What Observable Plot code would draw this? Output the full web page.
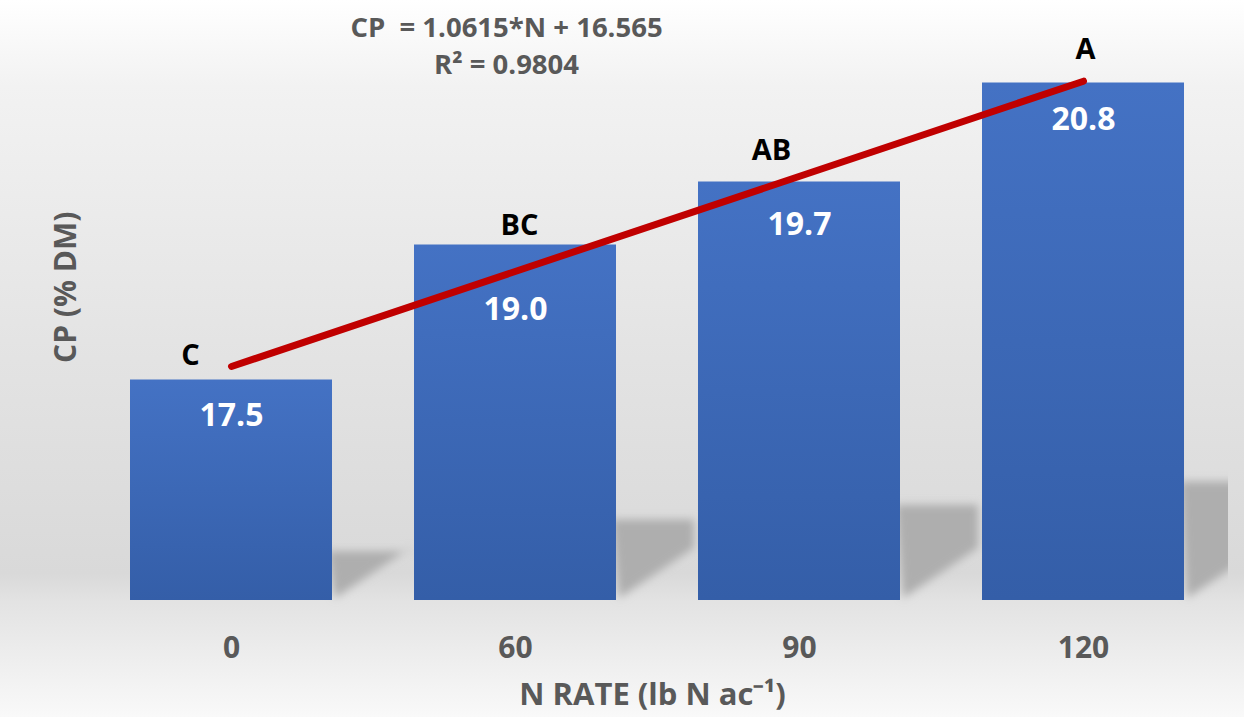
<!DOCTYPE html>
<html><head><meta charset="utf-8">
<script src="https://cdn.jsdelivr.net/npm/d3@7"></script>
<script src="https://cdn.jsdelivr.net/npm/@observablehq/plot@0.6"></script>
<style>
body{margin:0;background:#fff;}
#chart svg{display:block;}
</style></head><body><div id="chart"></div>
<script>
// ---- data ----
const nRates = ["0","60","90","120"];
const cpValues = [17.5, 19.0, 19.7, 20.8];
const sigLetters = ["C","BC","AB","A"];
const trendN = ["0","120"];
const trendCP = [17.65, 20.82];
const equationLines = ["CP  = 1.0615*N + 16.565", "R² = 0.9804"];
const xTitle = "N RATE (lb N ac⁻¹)";
const yTitle = "CP (% DM)";
const yBase = 15.05;
const yTop = 21.5;

const bars = nRates.map((n, i) => ({n, cp: cpValues[i], letter: sigLetters[i]}));
const trend = trendN.map((n, i) => ({n, cp: trendCP[i]}));

// ---- styling ----
const letterNudge = [[-41,-24],[4,-19],[-28,-31],[2,-33]];
const valueNudge = [[0,36],[0,65],[0,43],[0,37]];
const font = "'Open Sans', sans-serif";
const gray = "#595959";

const plot = Plot.plot({
  width: 1244, height: 717,
  marginTop: 19.5, marginBottom: 117, marginLeft: 100, marginRight: 30,
  style: {
    fontFamily: font,
    background: "linear-gradient(to bottom, #ffffff 0%, #f2f2f2 12%, #e3e3e3 50%, #d9d9d9 80%, #e3e3e3 84%, #f9f9f9 100%)"
  },
  x: {domain: nRates, paddingInner: 0.29, paddingOuter: 0.106, axis: null},
  y: {domain: [yBase, yTop], axis: null},
  marks: [
    Plot.barY(bars, {x: "n", y1: yBase, y2: "cp", fill: "url(#barGrad)"}),
    Plot.line(trend, {x: "n", y: "cp", stroke: "#c00000", strokeWidth: 7, strokeLinecap: "round"}),
    ...bars.map((b, i) => Plot.text([b], {
      x: "n", y: "cp", text: "letter", dx: letterNudge[i][0], dy: letterNudge[i][1],
      lineAnchor: "middle", fontSize: 29, fontWeight: "bold", fill: "#000"
    })),
    ...bars.map((b, i) => Plot.text([b], {
      x: "n", y: "cp", text: d => d.cp.toFixed(1), dx: valueNudge[i][0], dy: valueNudge[i][1],
      lineAnchor: "middle", fontSize: 32, fontWeight: "bold", fill: "#fff"
    })),
    Plot.text(nRates, {x: d => d, frameAnchor: "bottom", lineAnchor: "middle", dy: 48,
      fontSize: 30, fontWeight: "bold", fill: gray}),
    Plot.text([xTitle], {frameAnchor: "bottom", lineAnchor: "middle", textAnchor: "middle", dx: -5, dy: 95,
      fontSize: 31, fontWeight: "bold", fill: gray}),
    Plot.text([yTitle], {frameAnchor: "left", lineAnchor: "middle", textAnchor: "middle", rotate: -90, dx: -34, dy: -23,
      fontSize: 30, fontWeight: "bold", fill: gray}),
    Plot.text([equationLines.join("\n")], {frameAnchor: "top", lineAnchor: "middle", textAnchor: "middle", dx: -151, dy: 24,
      lineHeight: 1.35, fontSize: 27.5, fontWeight: "bold", fill: gray})
  ]
});

// ---- decorations: gradient, shadows ----
const svg = d3.select(plot);
const defs = svg.insert("defs", ":first-child");
const bg = defs.append("linearGradient").attr("id", "barGrad")
  .attr("x1", 0).attr("y1", 0).attr("x2", 0).attr("y2", 1);
bg.append("stop").attr("offset", "0%").attr("stop-color", "#4472c4");
bg.append("stop").attr("offset", "100%").attr("stop-color", "#345ea8");
defs.append("filter").attr("id", "shBlur").attr("x", "-30%").attr("y", "-30%").attr("width", "160%").attr("height", "160%")
  .append("feGaussianBlur").attr("stdDeviation", 4);
defs.append("clipPath").attr("id", "wallClip").append("rect")
  .attr("x", 0).attr("y", 0).attr("width", 1228).attr("height", 717);

const xs = plot.scale("x"), ys = plot.scale("y");
const base = ys.apply(yBase);
const shadowG = svg.insert("g", 'g[aria-label="bar"]').attr("clip-path", "url(#wallClip)");
bars.forEach(b => {
  const xr = xs.apply(b.n) + xs.bandwidth;
  const h = base - ys.apply(b.cp);
  const top = base - 0.235 * h;
  const W = 78;
  const pts = [[xr - 4, top + 3], [xr + W, top + 3], [xr + W, base - 0.67 * W], [xr + 3, base - 2]];
  shadowG.append("polygon").attr("points", pts.map(p => p.join(",")).join(" "))
    .attr("fill", "#aeaeae").attr("filter", "url(#shBlur)");
});

document.getElementById("chart").appendChild(plot);
</script>
</body></html>
